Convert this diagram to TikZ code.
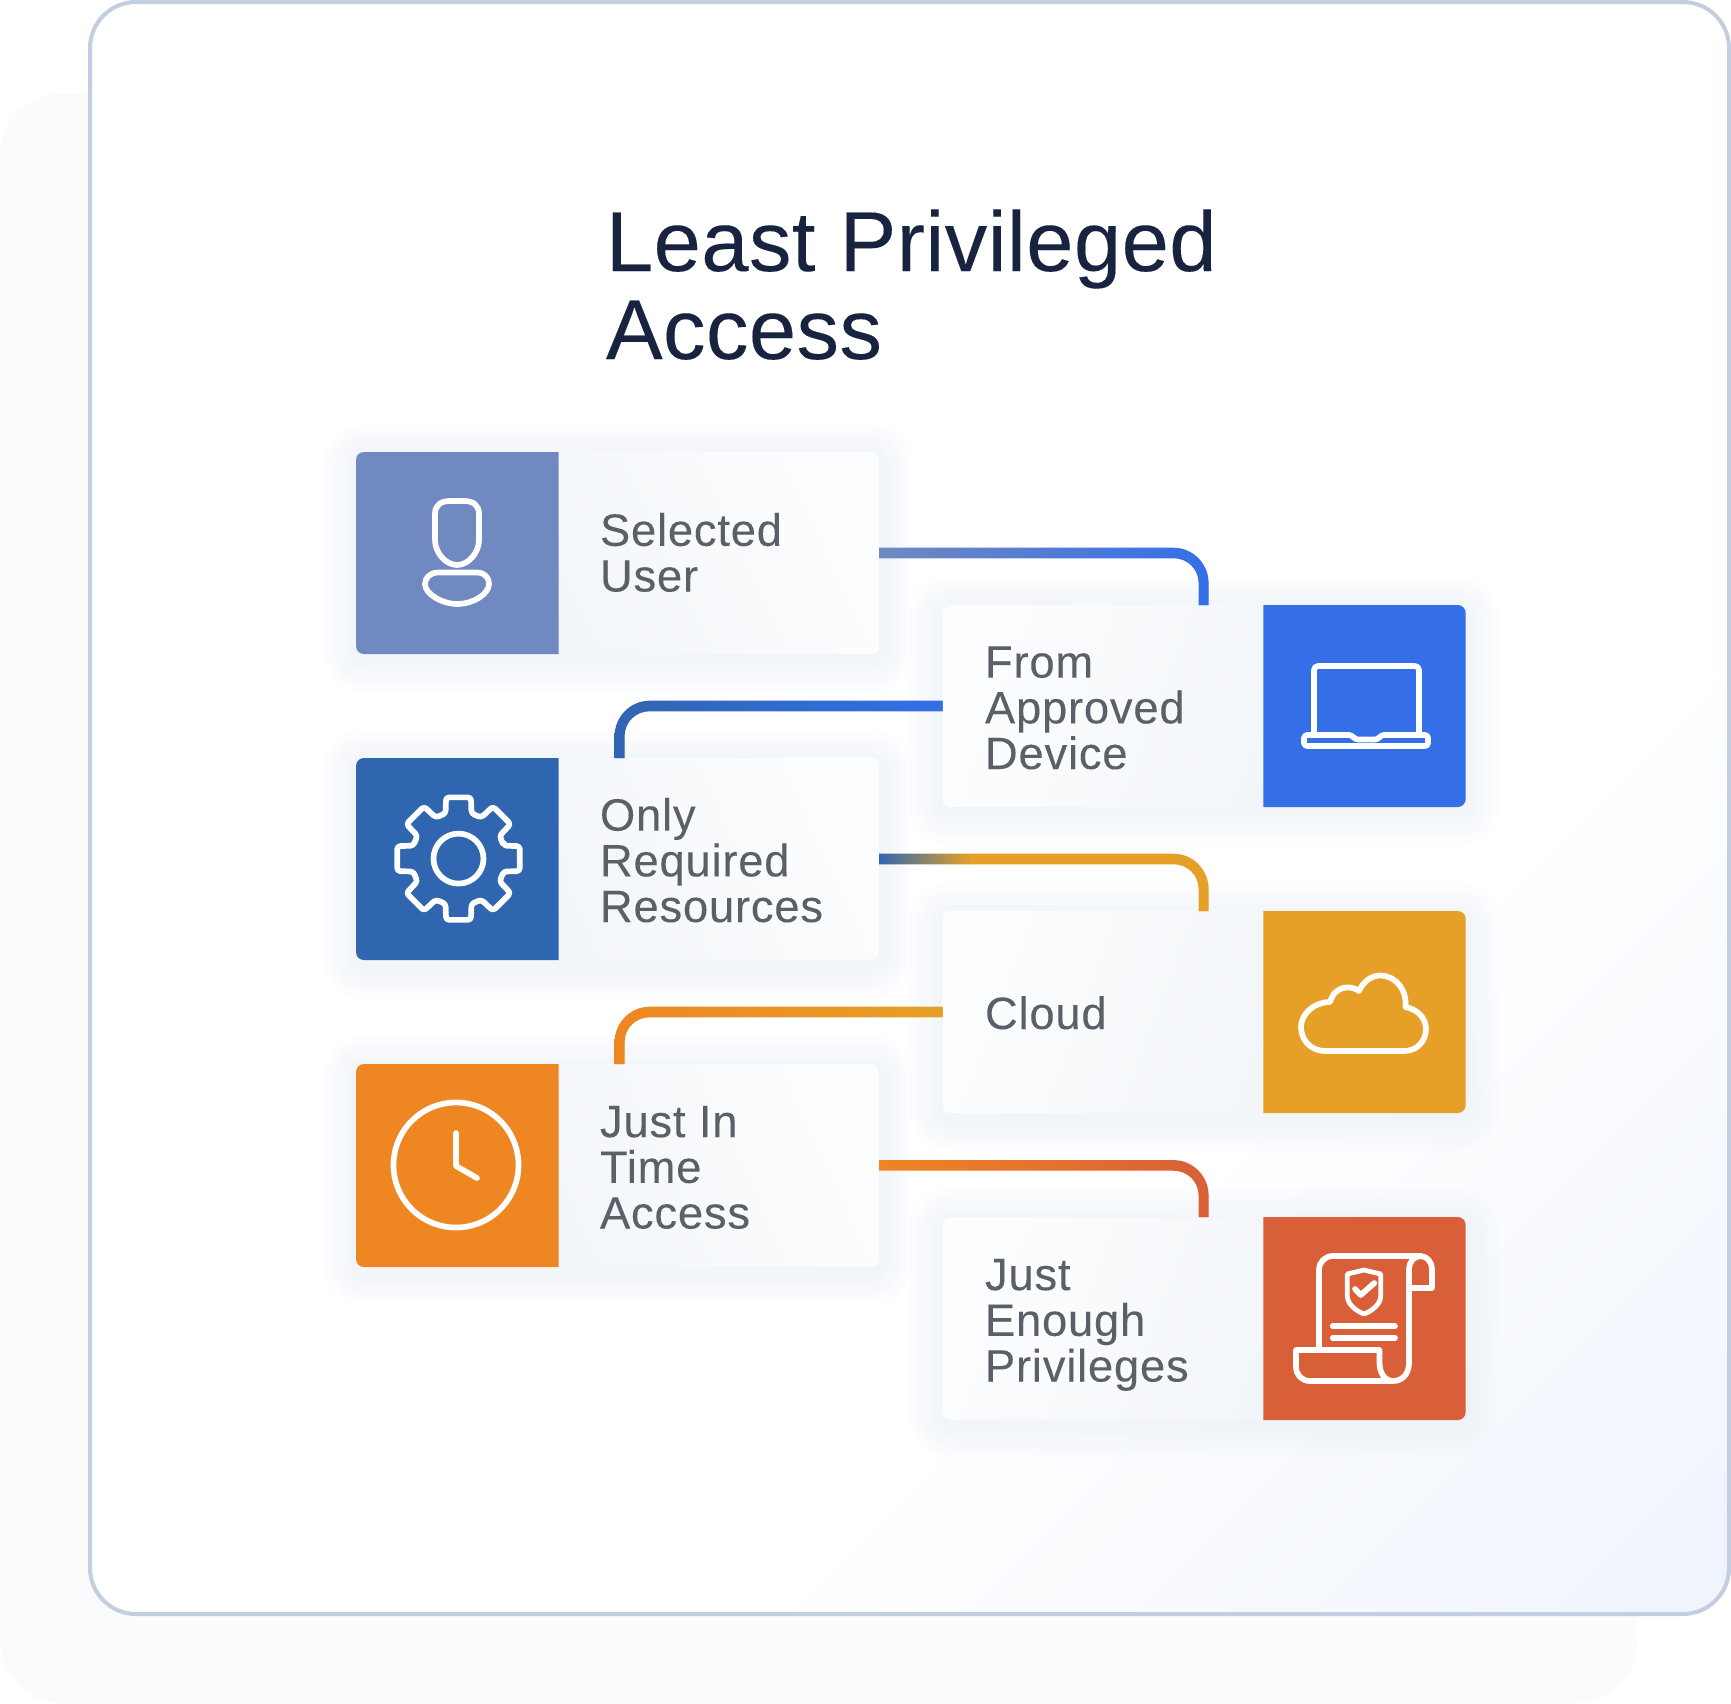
\documentclass[tikz,border=0pt]{standalone}
\usepackage{fontspec}
\setmainfont{Liberation Sans}
\newfontfamily\labelfont[FakeBold=0.12,LetterSpace=1.8]{Liberation Sans}
\newfontfamily\headfont[FakeBold=0.12,LetterSpace=0.5]{Liberation Sans}
\usetikzlibrary{calc}
\definecolor{backc}{HTML}{FBFBFD}
\definecolor{framec}{HTML}{C3CFE0}
\definecolor{tintc}{HTML}{EFF4FD}
\definecolor{titlec}{HTML}{18233F}
\definecolor{textc}{HTML}{5B6068}
\definecolor{shadowc}{HTML}{EAF0F7}
\definecolor{userc}{HTML}{7089C0}
\definecolor{gearc}{HTML}{3066B0}
\definecolor{laptopc}{HTML}{346FE8}
\definecolor{cloudc}{HTML}{E6A027}
\definecolor{clockc}{HTML}{EE8622}
\definecolor{scrollc}{HTML}{D95F38}
\definecolor{cardlo}{HTML}{FCFDFE}
\definecolor{cardhi}{HTML}{EEF2F7}
\pgfdeclarehorizontalshading{frameshade}{100bp}{color(0bp)=(white); color(64bp)=(white); color(85bp)=(tintc); color(100bp)=(tintc)}
\pgfdeclarehorizontalshading{cthree}{100bp}{color(0bp)=(gearc); color(25bp)=(gearc); color(39bp)=(cloudc); color(100bp)=(cloudc)}
\tikzset{
  x=1pt,y=-1pt,
  cardbox/.style={rectangle,inner sep=0pt,outer sep=0pt,minimum width=523pt,minimum height=202.4pt,rounded corners=8pt},
  lefttone/.style={cardbox,left color=cardhi,right color=cardlo,shading angle=115},
  righttone/.style={cardbox,left color=cardlo,right color=cardhi,shading angle=70},
  label/.style={inner sep=0pt,outer sep=0pt,anchor=base west,align=left,text=textc,font=\labelfont\fontsize{45.3}{45.7}\selectfont},
  titletext/.style={inner sep=0pt,outer sep=0pt,anchor=base west,align=left,text=titlec,font=\headfont\fontsize{85}{88}\selectfont},
  iconline/.style={draw=white,line width=5.7pt,line join=round,line cap=round,fill=none},
  link/.style={line width=9pt,rounded corners=30pt},
}
% soft shadow made of stacked translucent rounded boxes
\newcommand\softshadow[4]{%
  \foreach \k in {1,...,6}{%
    \pgfmathsetmacro\ee{\k*5.5}%
    \pgfmathsetmacro\rr{\ee+8}%
    \fill[shadowc,opacity=.1,rounded corners=\rr pt]
      ({#1-\ee},{#2-\ee+5}) rectangle ({#3+\ee},{#4+\ee+5});
  }%
}
% #1 start, #2 end, #3 direction sign, #4 shading options
\newcommand\ribbon[4]{%
  \coordinate (kn) at (#2 |- #1);
  \shade[#4]
    ([yshift=5.3pt]#1) -- ([xshift={-30pt*#3},yshift=5.3pt]kn)
    .. controls ([xshift={-10.7pt*#3},yshift=5.3pt]kn) and ([xshift={5pt*#3},yshift=-10.7pt]kn) ..
    ([xshift={5pt*#3},yshift=-30pt]kn) -- ([xshift={5pt*#3}]#2) -- ([xshift={-5pt*#3}]#2)
    -- ([xshift={-5pt*#3},yshift=-30pt]kn)
    .. controls ([xshift={-5pt*#3},yshift=-16.2pt]kn) and ([xshift={-16.2pt*#3},yshift=-5.3pt]kn) ..
    ([xshift={-30pt*#3},yshift=-5.3pt]kn) -- ([yshift=-5.3pt]#1) -- cycle;
}
% coloured icon tile with rounded outer corners only
\newcommand\tileleft[3]{%
  \begin{scope}\clip (356,#1) rectangle (558.5,#2);
    \fill[#3,rounded corners=8pt] (356,#1) rectangle (640,#2);
  \end{scope}}
\newcommand\tileright[3]{%
  \begin{scope}\clip (1263.3,#1) rectangle (1465.7,#2);
    \fill[#3,rounded corners=8pt] (1180,#1) rectangle (1465.7,#2);
  \end{scope}}
\begin{document}
\begin{tikzpicture}
\useasboundingbox (0,0) rectangle (1731,1703);
% backgrounds
\fill[backc,rounded corners=62pt] (0,94) rectangle (1637,1703);
\shade[shading=frameshade,shading angle=-45,rounded corners=46pt] (90,2) rectangle (1729,1614);
\draw[framec,line width=4pt,rounded corners=46pt] (90,2) rectangle (1729,1614);
% title
\node[titletext] (title) at (606,359) {Least Privileged\\Access};
% shadows
\softshadow{356}{452}{879}{654}
\softshadow{942.5}{605}{1465.7}{807}
\softshadow{356}{758}{879}{960}
\softshadow{942.5}{911}{1465.7}{1113}
\softshadow{356}{1064}{879}{1267}
\softshadow{942.5}{1217}{1465.7}{1420}
% cards
\node[lefttone] (sel) at (617.5,553) {};
\node[righttone] (from) at (1204.2,706) {};
\node[lefttone] (only) at (617.5,859) {};
\node[righttone] (cloud) at (1204.2,1012) {};
\node[lefttone] (just) at (617.5,1165.4) {};
\node[righttone] (enough) at (1204.2,1318.5) {};
\coordinate (fromtop) at (1203.6,605);
\coordinate (onlytop) at (619.6,758);
\coordinate (cloudtop) at (1203.6,911);
\coordinate (justtop) at (619.6,1064);
\coordinate (enoughtop) at (1203.6,1217);
% connectors
\draw[link,draw=laptopc] (sel.east) -| (fromtop);
\ribbon{sel.east}{fromtop}{1}{left color=userc,right color=laptopc}
\draw[link,draw=gearc] (from.west) -| (onlytop);
\ribbon{from.west}{onlytop}{-1}{left color=gearc,right color=laptopc}
\draw[link,draw=cloudc] (only.east) -| (cloudtop);
\ribbon{only.east}{cloudtop}{1}{shading=cthree}
\draw[link,draw=clockc] (cloud.west) -| (justtop);
\ribbon{cloud.west}{justtop}{-1}{left color=clockc,right color=cloudc}
\draw[link,draw=scrollc] (just.east) -| (enoughtop);
\ribbon{just.east}{enoughtop}{1}{left color=clockc,right color=scrollc}
% tiles
\tileleft{452}{654}{userc}
\tileright{605}{807}{laptopc}
\tileleft{758}{960}{gearc}
\tileright{911}{1113}{cloudc}
\tileleft{1064}{1267}{clockc}
\tileright{1217}{1420}{scrollc}
% labels (anchored at the last baseline)
\node[label] (t1) at (600,591.5) {Selected\\User};
\node[label] (t2) at (985,769) {From\\Approved\\Device};
\node[label] (t3) at (600,922) {Only\\Required\\Resources};
\node[label] (t4) at (985,1029) {Cloud};
\node[label] (t5) at (600,1228.5) {Just In\\Time\\Access};
\node[label] (t6) at (985,1381.5) {Just\\Enough\\Privileges};
% user icon
\draw[iconline] (435,518) -- (435,514) .. controls (435,505) and (441,501) .. (450,501) -- (464,501)
  .. controls (473,501) and (479,505) .. (479,514) -- (479,540)
  .. controls (479,553) and (468,565) .. (457,565) .. controls (446,565) and (435,553) .. (435,540) -- cycle;
\draw[iconline] (438,572.5) -- (477,572.5) .. controls (485,572.5) and (489,578) .. (489,584)
  .. controls (489,594) and (473,604) .. (457.5,604) .. controls (442,604) and (425,594) .. (425,584)
  .. controls (425,578) and (430,572.5) .. (438,572.5) -- cycle;
% laptop icon
\draw[iconline,rounded corners=4pt] (1314,735) -- (1314,666) -- (1419,666) -- (1419,735);
\draw[iconline,rounded corners=3pt] (1304,735) -- (1304,746) -- (1428,746) -- (1428,735) -- (1381,735)
  -- (1378,739.5) -- (1355,739.5) -- (1352,735) -- cycle;
% gear icon
\begin{scope}[shift={(458.5,858.6)}]
  \draw[iconline,rounded corners=3pt] (-16:47)
    \foreach \a in {0,45,...,315}{ -- ({\a-11.5}:62.5) -- ({\a+11.5}:62.5) -- ({\a+16}:47) -- ({\a+29}:47) } -- cycle;
  \draw[iconline] (0,0) circle (25);
\end{scope}
% cloud icon
\draw[iconline] (1325,1051) -- (1404,1051) .. controls (1417,1051) and (1426,1041) .. (1426,1029)
  .. controls (1426,1018) and (1417,1009) .. (1405.5,1007) .. controls (1407,990) and (1396,975.5) .. (1380,975.5)
  .. controls (1371,975.5) and (1363,982) .. (1359,991) .. controls (1351,985) and (1335,985) .. (1330,1002)
  .. controls (1314,1002) and (1301,1014) .. (1301,1027) .. controls (1301,1041) and (1312,1051) .. (1325,1051) -- cycle;
% clock icon
\draw[iconline] (456,1165) circle (62.5);
\draw[iconline] (456,1133) -- (456,1166) -- (477,1178);
% scroll icon
\draw[iconline] (1319,1350) -- (1319,1270) .. controls (1319,1262) and (1325,1256) .. (1333,1256) -- (1420,1256)
  .. controls (1427,1256) and (1432,1262) .. (1432,1269) -- (1432,1288) -- (1409,1288);
\draw[iconline] (1421,1256) .. controls (1414,1256) and (1409,1262) .. (1409,1269) -- (1409,1363)
  .. controls (1409,1373) and (1403,1381) .. (1393,1381) .. controls (1385,1381) and (1379.5,1373) .. (1379.5,1363)
  -- (1379.5,1350) -- (1296,1350) -- (1296,1367) .. controls (1296,1375) and (1302,1381) .. (1310,1381) -- (1393,1381);
\draw[iconline,line width=4.8pt] (1364,1270) -- (1380.7,1274) -- (1380.7,1296) .. controls (1380.7,1304) and (1372,1311) .. (1364,1314)
  .. controls (1356,1311) and (1347.3,1304) .. (1347.3,1296) -- (1347.3,1274) -- cycle;
\draw[iconline] (1355,1289) -- (1360.7,1295) -- (1374.3,1283);
\draw[iconline] (1332.7,1326.3) -- (1395,1326.3);
\draw[iconline] (1332.7,1338) -- (1395,1338);
\end{tikzpicture}
\end{document}
